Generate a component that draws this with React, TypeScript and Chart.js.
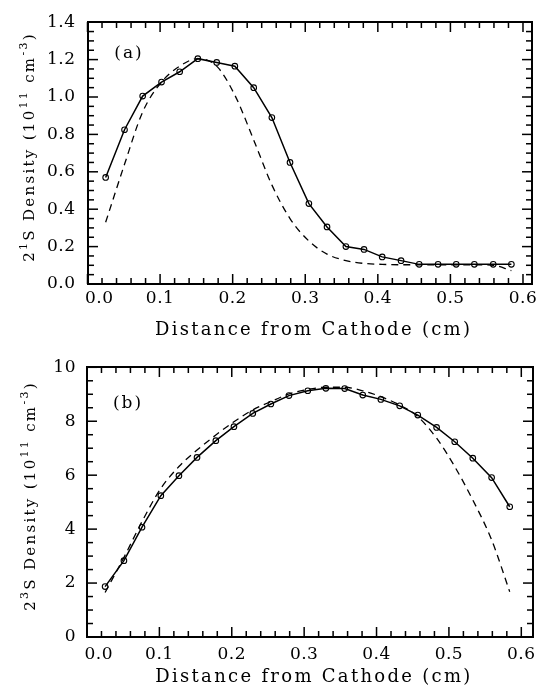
import React, { useEffect, useRef } from "react";
import { Chart, registerables } from "chart.js";

Chart.register(...registerables);

// ---------- data ----------
const distanceCm = [
  0.025, 0.051, 0.076, 0.102, 0.127, 0.152, 0.178, 0.203, 0.229, 0.254, 0.279, 0.305,
  0.330, 0.356, 0.381, 0.406, 0.432, 0.457, 0.483, 0.508, 0.533, 0.559, 0.584,
];

const singletMeasured = [
  0.57, 0.825, 1.005, 1.08, 1.135, 1.205, 1.185, 1.165, 1.05, 0.89, 0.65, 0.43,
  0.305, 0.2, 0.185, 0.145, 0.125, 0.105, 0.105, 0.105, 0.105, 0.105, 0.105,
];

const singletModel = [
  0.33, 0.64, 0.92, 1.08, 1.165, 1.205, 1.165, 1.01, 0.77, 0.53, 0.35, 0.23,
  0.16, 0.125, 0.11, 0.105, 0.103, 0.103, 0.103, 0.103, 0.103, 0.1, 0.072,
];

const tripletMeasured = [
  1.87, 2.83, 4.07, 5.24, 5.98, 6.66, 7.28, 7.8, 8.29, 8.64, 8.95, 9.13,
  9.22, 9.21, 8.97, 8.81, 8.57, 8.23, 7.77, 7.24, 6.63, 5.91, 4.83,
];

const tripletModel = [
  1.65, 2.95, 4.28, 5.51, 6.32, 6.93, 7.49, 7.98, 8.42, 8.73, 9.01, 9.18,
  9.26, 9.26, 9.13, 8.91, 8.6, 8.17, 7.37, 6.32, 5.08, 3.6, 1.68,
];

const xTickValues = [0, 0.1, 0.2, 0.3, 0.4, 0.5, 0.6];
const xMinorStep = 0.02;
const singletTickValues = [0, 0.2, 0.4, 0.6, 0.8, 1.0, 1.2, 1.4];
const singletMinorStep = 0.05;
const tripletTickValues = [0, 2, 4, 6, 8, 10];
const tripletMinorStep = 0.5;

const xAxisTitle = "Distance from Cathode (cm)";
// y title pieces: [text, isSuperscript]
const singletYTitle: [string, boolean][] = [
  ["2", false], ["1", true], ["S Density (10", false], ["11", true],
  [" cm", false], ["-3", true], [")", false],
];
const tripletYTitle: [string, boolean][] = [
  ["2", false], ["3", true], ["S Density (10", false], ["11", true],
  [" cm", false], ["-3", true], [")", false],
];

const FONT = "'DejaVu Serif', 'Liberation Serif', serif";

type PanelSpec = {
  measured: number[];
  model: number[];
  yTicks: number[];
  yMax: number;
  yMinorStep: number;
  yFormat: (v: number) => string;
  xMax: number;
  padRight: number;
  padTop: number;
  xAxisHeight: number;
  yAxisWidth: number;
  xTickPad: number;
  yTickPad: number;
  xTitleBaseline: number;
  yTitleBaseline: number;
  yTitleCenter: number;
  yTitle: [string, boolean][];
  panelLabel: string;
  panelLabelX: number;
  panelLabelY: number;
};

function isMajor(v: number, majors: number[]) {
  return majors.some((m) => Math.abs(m - v) < 1e-6);
}

function drawFrameAndTicks(chart: any, spec: PanelSpec) {
  const ctx: CanvasRenderingContext2D = chart.ctx;
  const area = chart.chartArea;
  const left = area.left;
  const right = area.right;
  const top = area.top;
  const bottom = area.bottom;
  const L = Math.round(left);
  const R = Math.round(right);
  const T = Math.round(top);
  const B = Math.round(bottom);
  // same linear mapping as the chart's own x / y scales (min 0, max from spec)
  const xPix = (v: number) => left + (v / spec.xMax) * (right - left);
  const yPix = (v: number) => bottom - (v / spec.yMax) * (bottom - top);

  ctx.save();
  ctx.setLineDash([]);
  ctx.globalAlpha = 1;
  ctx.fillStyle = "#000000";
  const tw = 1.5;
  const nX = Math.round(0.6 / xMinorStep);
  for (let i = 0; i <= nX; i++) {
    const v = i * xMinorStep;
    const px = xPix(v);
    const len = isMajor(v, xTickValues) ? 10 : 6;
    ctx.fillRect(px - tw / 2, B - len, tw, len);
    ctx.fillRect(px - tw / 2, T, tw, len);
  }
  const nY = Math.round(spec.yMax / spec.yMinorStep);
  for (let i = 0; i <= nY; i++) {
    const v = i * spec.yMinorStep;
    const py = yPix(v);
    const len = isMajor(v, spec.yTicks) ? 10 : 6;
    ctx.fillRect(L, py - tw / 2, len, tw);
    ctx.fillRect(R - len, py - tw / 2, len, tw);
  }
  // frame
  ctx.fillRect(L - 1, T - 1, R - L + 2, 2);
  ctx.fillRect(L - 1, B - 1, R - L + 2, 2);
  ctx.fillRect(L - 1, T - 1, 2, B - T + 2);
  ctx.fillRect(R - 1, T - 1, 2, B - T + 2);
  ctx.restore();
}

function drawTexts(chart: any, spec: PanelSpec) {
  const ctx: CanvasRenderingContext2D = chart.ctx;
  const { left, right } = chart.chartArea;
  ctx.save();
  ctx.fillStyle = "#000";
  (ctx as any).letterSpacing = "2.3px";
  ctx.font = `18px ${FONT}`;
  ctx.textAlign = "center";
  ctx.textBaseline = "alphabetic";
  ctx.fillText(xAxisTitle, (left + right) / 2 + 4, spec.xTitleBaseline);

  ctx.font = `17px ${FONT}`;
  ctx.textBaseline = "middle";
  (ctx as any).letterSpacing = "2px";
  ctx.fillText(spec.panelLabel, spec.panelLabelX, spec.panelLabelY);

  (ctx as any).letterSpacing = "2.3px";
  ctx.textAlign = "left";
  ctx.textBaseline = "alphabetic";
  const mainFont = `15px ${FONT}`;
  const supFont = `11px ${FONT}`;
  let total = 0;
  const widths = spec.yTitle.map(([t, sup]) => {
    ctx.font = sup ? supFont : mainFont;
    const w = ctx.measureText(t).width;
    total += w;
    return w;
  });
  ctx.translate(spec.yTitleBaseline, spec.yTitleCenter);
  ctx.rotate(-Math.PI / 2);
  let cx = -total / 2;
  spec.yTitle.forEach(([t, sup], i) => {
    ctx.font = sup ? supFont : mainFont;
    ctx.fillText(t, cx, sup ? -7 : 0);
    cx += widths[i];
  });
  ctx.restore();
}

function panelPlugin(spec: PanelSpec) {
  return {
    id: "panelDecor",
    beforeDraw(chart: any) {
      chart.ctx.letterSpacing = "0.5px";
    },
    afterDraw(chart: any) {
      drawFrameAndTicks(chart, spec);
      drawTexts(chart, spec);
    },
  };
}

function makePanel(canvas: HTMLCanvasElement, spec: PanelSpec) {
  return new Chart(canvas, {
    type: "line",
    data: {
      datasets: [
        {
          label: "measured",
          data: distanceCm.map((x, i) => ({ x, y: spec.measured[i] })),
          borderColor: "#000",
          borderWidth: 1.5,
          pointRadius: 2.8,
          pointBorderWidth: 1.1,
          pointBorderColor: "#000",
          pointBackgroundColor: "rgba(0,0,0,0)",
          tension: 0,
          order: 0,
        },
        {
          label: "model",
          data: distanceCm.map((x, i) => ({ x, y: spec.model[i] })),
          borderColor: "#000",
          borderWidth: 1.3,
          borderDash: [7, 5],
          pointRadius: 0,
          cubicInterpolationMode: "monotone",
          order: 1,
        },
      ],
    },
    options: {
      responsive: false,
      animation: false,
      devicePixelRatio: 1,
      events: [],
      layout: { padding: { left: 0, right: spec.padRight, top: spec.padTop, bottom: 0 } },
      plugins: { legend: { display: false }, tooltip: { enabled: false } },
      scales: {
        x: {
          type: "linear",
          min: 0,
          max: spec.xMax,
          afterBuildTicks: (s: any) => {
            s.ticks = xTickValues.map((v) => ({ value: v }));
          },
          afterFit: (s: any) => {
            s.height = spec.xAxisHeight;
          },
          grid: { display: false, drawTicks: false },
          border: { display: false },
          ticks: {
            padding: spec.xTickPad,
            color: "#000",
            maxRotation: 0,
            autoSkip: false,
            font: { family: FONT, size: 17, lineHeight: 1.2 },
            callback: (v: any) => (Number(v) === 0 ? "    0.0" : Number(v).toFixed(1)),
          },
        },
        y: {
          type: "linear",
          min: 0,
          max: spec.yMax,
          afterBuildTicks: (s: any) => {
            s.ticks = spec.yTicks.map((v) => ({ value: v }));
          },
          afterFit: (s: any) => {
            s.width = spec.yAxisWidth;
          },
          grid: { display: false, drawTicks: false },
          border: { display: false },
          ticks: {
            padding: spec.yTickPad,
            color: "#000",
            autoSkip: false,
            font: { family: FONT, size: 17, lineHeight: 1.2 },
            callback: (v: any) => spec.yFormat(Number(v)),
          },
        },
      },
    } as any,
    plugins: [panelPlugin(spec)],
  });
}

const topSpec: PanelSpec = {
  measured: singletMeasured,
  model: singletModel,
  yTicks: singletTickValues,
  yMax: 1.4,
  yMinorStep: singletMinorStep,
  yFormat: (v) => v.toFixed(1),
  xMax: 0.612,
  padRight: 10.3,
  padTop: 15.5,
  xAxisHeight: 59,
  yAxisWidth: 87.5,
  xTickPad: 4,
  yTickPad: 12,
  xTitleBaseline: 335,
  yTitleBaseline: 34,
  yTitleCenter: 147,
  yTitle: singletYTitle,
  panelLabel: "(a)",
  panelLabelX: 129,
  panelLabelY: 54,
};

const bottomSpec: PanelSpec = {
  measured: tripletMeasured,
  model: tripletModel,
  yTicks: tripletTickValues,
  yMax: 10,
  yMinorStep: tripletMinorStep,
  yFormat: (v) => String(Math.round(v)),
  xMax: 0.616,
  padRight: 7,
  padTop: 24.3,
  xAxisHeight: 49,
  yAxisWidth: 87,
  xTickPad: 7,
  yTickPad: 11,
  xTitleBaseline: 339,
  yTitleBaseline: 35,
  yTitleCenter: 153,
  yTitle: tripletYTitle,
  panelLabel: "(b)",
  panelLabelX: 128,
  panelLabelY: 60.5,
};

export default function App() {
  const topRef = useRef<HTMLCanvasElement | null>(null);
  const bottomRef = useRef<HTMLCanvasElement | null>(null);

  useEffect(() => {
    const charts: Chart[] = [];
    if (topRef.current) charts.push(makePanel(topRef.current, topSpec));
    if (bottomRef.current) charts.push(makePanel(bottomRef.current, bottomSpec));
    return () => charts.forEach((c) => c.destroy());
  }, []);

  return (
    <div
      style={{
        position: "absolute",
        left: 0,
        top: 0,
        width: 542,
        height: 686,
        background: "#fff",
      }}
    >
      <canvas
        ref={topRef}
        width={542}
        height={343}
        style={{ display: "block", width: 542, height: 343 }}
      />
      <canvas
        ref={bottomRef}
        width={542}
        height={343}
        style={{ display: "block", width: 542, height: 343 }}
      />
    </div>
  );
}
